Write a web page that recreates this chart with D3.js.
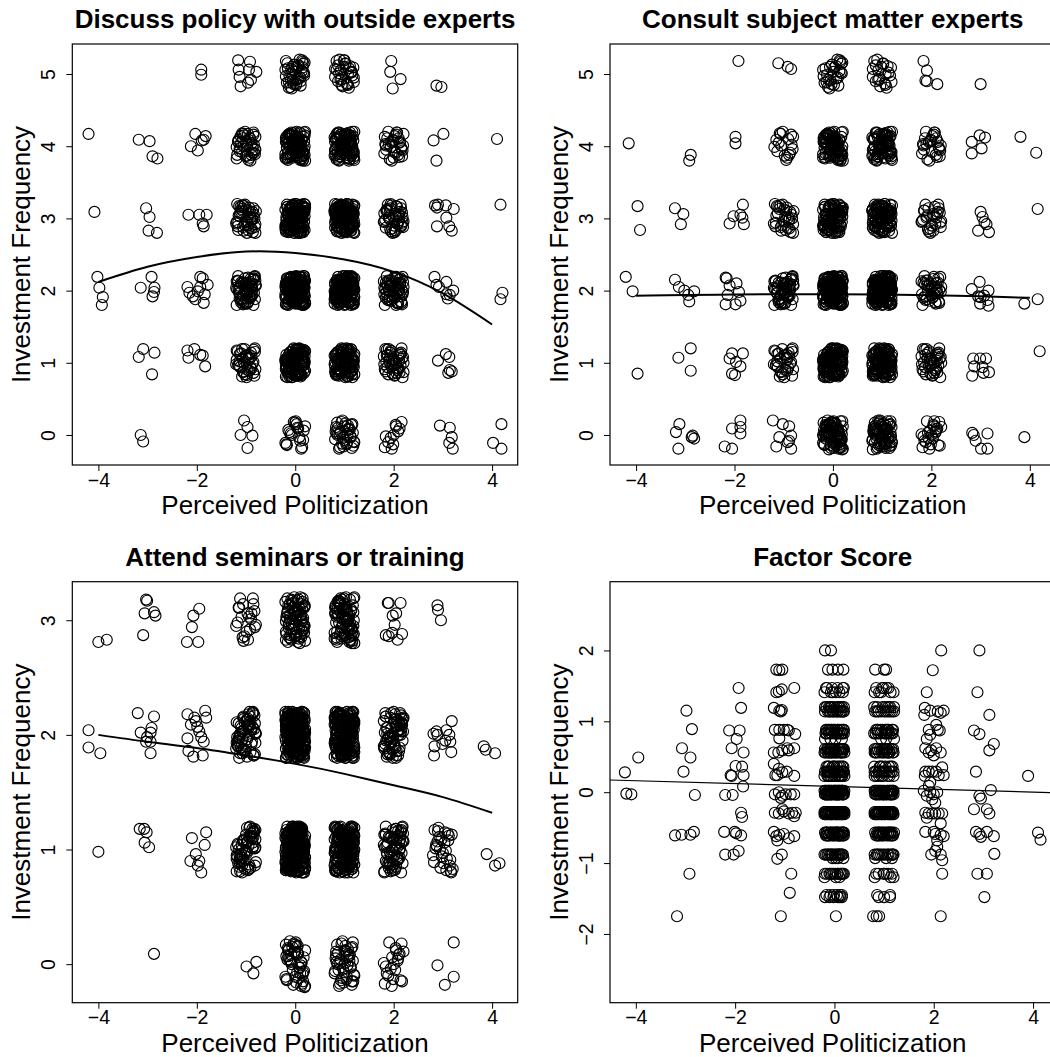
<!DOCTYPE html>
<html>
<head>
<meta charset="utf-8">
<script src="https://cdn.jsdelivr.net/npm/d3@7"></script>
<style>
  body { margin: 0; background: #fff; }
  svg text { font-family: "Liberation Sans", Arial, Helvetica, sans-serif; fill: #000; }
</style>
</head>
<body>
<svg id="chart" width="1050" height="1057"></svg>
<script>
// ---- shared axis values ----
const xTicks = [-4, -2, 0, 2, 4];
const fitX = [-4, -3, -2, -1, 0, 1, 2, 3, 4];

// hand-typed jitter offsets (hundredths) used for the solid central clusters
const jitterX = [-13, 7, 18, -4, 2, -19, 11, -8, 15, -1, 5, -16, 19, -11, 9, -6, 13, 0, -18, 4,
  16, -9, -3, 12, -14, 8, 20, -20, 3, -7, 14, -12, 10, 1, -17, 6, 17, -5, -15, 19,
  -2, 11, -10, 7, -19, 15, 2, -8, 13, -13, 18, -4, 5, -16, 9, -1, 16, -11, 0, 12,
  -18, 4, -6, 20, -14, 8, -9, 14, -3, 3, -20, 10, 17, -7, 6, -12, 1, -17, 15, -5,
  11, -15, 18, -2, 7, -10, 19, 13, -19, -6, 2, 9, -13, 16, -8, 5, -16];
const jitterY = [8, -15, 3, 19, -10, -2, 14, -18, 6, 11, -6, -20, 16, 1, -12, 9, -4, 20, -16, 5,
  13, -9, -1, 17, -13, 10, -7, 2, 18, -19, 7, -3, 12, -11, 15, 0, -17, 4, -8, 19,
  -14, 9, 6, -5, 14, -20, 11, -1, 3, -12, 17, -9, -16, 8, 1, 13, -6, -18, 16, 4,
  -3, 10, -15, 20, -11, 2, 7, -7, 15, -19, 12, -2, 5, -13, 18, -10, 0, 9, -17, 14,
  -4, 11, -8, 3, 19, -14, 6, -5, 1];

// ---- panel 1: Discuss policy with outside experts ----
const discussLevels = [0, 1, 2, 3, 4, 5];
const discussCols = [-1, 0, 1, 2];
const discussCounts = [   // rows = levels, cols = discussCols
  [0, 20, 35, 12],
  [40, 120, 95, 45],
  [60, 160, 150, 60],
  [45, 130, 130, 45],
  [40, 95, 90, 32],
  [0, 40, 32, 0]
];
const discussSparse = [
  [-4.20, 4.17], [-4.08, 3.09], [-4.02, 2.19], [-3.98, 2.04], [-3.91, 1.91], [-3.93, 1.80],
  [-3.18, 4.09], [-2.96, 4.07], [-2.90, 3.86], [-2.80, 3.83], [-3.03, 3.14], [-2.96, 3.02],
  [-2.98, 2.83], [-2.81, 2.80], [-3.14, 2.04], [-2.92, 2.19], [-2.86, 2.04], [-2.87, 1.98],
  [-2.90, 1.92], [-3.09, 1.19], [-3.18, 1.08], [-2.86, 1.14], [-2.91, 0.84], [-3.14, 0.00],
  [-3.09, -0.09],
  [-1.91, 5.06], [-1.91, 4.99], [-2.03, 4.17], [-2.12, 4.00], [-1.98, 3.94], [-1.86, 4.09],
  [-1.82, 4.14], [-1.90, 4.08], [-2.17, 3.05], [-1.95, 3.05], [-1.80, 3.05], [-1.88, 2.93],
  [-1.86, 2.89], [-2.19, 2.05], [-2.08, 1.92], [-1.98, 1.99], [-1.93, 2.19], [-1.88, 2.17],
  [-1.78, 2.08], [-1.84, 1.95], [-1.86, 1.83], [-2.03, 1.88], [-1.93, 2.05], [-2.15, 1.97],
  [-2.05, 1.19], [-2.19, 1.17], [-2.17, 1.07], [-1.93, 1.11], [-1.83, 0.95], [-1.88, 1.10],
  [-1.16, 5.19], [-0.92, 5.17], [-1.15, 5.06], [-0.79, 5.03], [-0.94, 5.06], [-1.13, 4.96],
  [-0.90, 4.92], [-0.96, 4.88], [-1.11, 4.83],
  [-1.04, 0.20], [-0.97, 0.11], [-1.11, 0.00], [-0.87, -0.01], [-0.97, -0.18],
  [1.95, 5.18], [1.93, 5.03], [2.14, 4.93], [1.98, 4.80],
  [2.87, 4.84], [2.97, 4.82], [2.81, 4.08], [3.01, 4.17], [2.87, 3.80], [2.84, 3.18],
  [2.88, 3.15], [2.90, 3.19], [3.06, 3.18], [3.22, 3.13], [3.07, 3.01], [2.88, 2.89],
  [3.13, 2.89], [3.18, 2.83], [2.83, 2.19], [2.87, 2.08], [3.07, 2.12], [3.21, 2.00],
  [2.92, 2.05], [3.07, 1.95], [3.10, 1.89], [3.14, 1.94], [2.90, 1.03], [3.06, 1.12],
  [3.13, 1.08], [3.11, 0.86], [3.18, 0.88], [3.14, 0.90], [2.94, 0.13], [3.14, 0.10],
  [3.18, -0.03], [3.13, -0.11], [3.20, -0.19],
  [4.10, 4.10], [4.17, 3.19], [4.21, 1.97], [4.17, 1.88], [4.19, 0.15], [4.02, -0.11], [4.19, -0.19]
];
const discussFit = [2.12, 2.33, 2.465, 2.54, 2.52, 2.43, 2.26, 1.96, 1.53];

// ---- panel 2: Consult subject matter experts ----
const consultLevels = [0, 1, 2, 3, 4, 5];
const consultCols = [-1, 0, 1, 2];
const consultCounts = [
  [0, 80, 65, 24],
  [32, 130, 110, 40],
  [52, 145, 145, 40],
  [32, 95, 90, 28],
  [18, 80, 72, 26],
  [0, 28, 22, 0]
];
const consultSparse = [
  [-4.15, 4.04], [-3.97, 3.17], [-3.92, 2.84], [-4.21, 2.19], [-4.07, 1.99], [-3.97, 0.85],
  [-2.89, 3.88], [-2.92, 3.80], [-3.21, 3.14], [-3.04, 3.06], [-3.09, 2.92], [-3.21, 2.15],
  [-3.13, 2.05], [-3.02, 2.00], [-2.82, 1.99], [-2.94, 1.94], [-2.92, 1.85], [-3.14, 1.07],
  [-2.89, 1.20], [-2.89, 0.89], [-3.12, 0.15], [-3.19, 0.04], [-3.14, -0.19], [-2.87, -0.03],
  [-2.82, -0.05], [-2.85, -0.01],
  [-1.92, 5.18], [-1.98, 4.13], [-1.98, 4.04], [-2.10, 2.93], [-2.02, 3.03], [-1.88, 3.05],
  [-1.83, 3.19], [-1.81, 2.92], [-1.84, 3.01], [-2.18, 2.18], [-2.16, 2.17], [-2.10, 2.07],
  [-1.96, 2.10], [-1.91, 1.98], [-2.14, 1.94], [-2.18, 1.81], [-1.98, 1.81], [-1.88, 1.86],
  [-2.10, 1.06], [-2.05, 1.13], [-1.97, 1.01], [-1.83, 1.13], [-1.88, 0.95], [-2.05, 0.85],
  [-1.99, 0.83], [-1.88, 0.20], [-2.05, 0.09], [-1.88, 0.11], [-1.88, 0.02], [-2.20, -0.16],
  [-2.05, -0.19],
  [-1.11, 5.15], [-0.92, 5.10], [-0.85, 5.07],
  [-1.22, 0.20], [-1.02, 0.15], [-0.89, 0.12], [-1.09, -0.03], [-0.85, -0.01], [-0.89, -0.08],
  [-1.15, -0.16], [-0.85, -0.19], [-0.92, -0.10],
  [1.84, 5.18], [1.91, 5.05], [1.88, 4.91], [1.91, 4.90], [2.12, 4.86],
  [3.00, 4.86], [2.82, 4.06], [2.98, 4.15], [3.09, 4.12], [2.82, 3.90], [3.02, 3.97],
  [3.00, 3.09], [3.04, 3.02], [3.08, 2.95], [3.12, 2.92], [2.95, 2.83], [3.17, 2.81],
  [2.82, 2.02], [2.98, 2.12], [3.16, 2.00], [2.95, 1.92], [3.07, 1.93], [3.14, 1.87],
  [2.99, 1.82], [3.16, 1.79], [3.00, 1.91], [2.85, 1.06], [2.99, 1.06], [3.11, 1.06],
  [2.87, 0.95], [3.04, 0.94], [2.83, 0.82], [3.06, 0.86], [3.17, 0.87], [2.83, 0.03],
  [2.90, -0.08], [3.14, 0.02], [3.01, -0.19], [3.14, -0.19], [2.86, 0.00],
  [3.81, 4.13], [4.13, 3.91], [4.16, 3.13], [3.89, 1.82], [4.16, 1.88], [4.20, 1.16], [3.89, -0.03]
];
const consultFit = [1.93, 1.94, 1.945, 1.95, 1.95, 1.945, 1.935, 1.92, 1.90];

// ---- panel 3: Attend seminars or training ----
const attendLevels = [0, 1, 2, 3];
const attendCols = [-1, 0, 1, 2, 3];
const attendCounts = [
  [0, 48, 45, 22, 0],
  [65, 210, 180, 70, 30],
  [65, 210, 190, 70, 0],
  [22, 80, 85, 0, 0]
];
const attendSparse = [
  [-4.00, 2.81], [-3.83, 2.83], [-4.20, 2.04], [-4.20, 1.89], [-3.96, 1.84], [-4.00, 0.98],
  [-3.03, 3.18], [-3.01, 3.17], [-3.06, 3.06], [-2.87, 3.07], [-2.84, 3.04], [-3.09, 2.87],
  [-3.20, 2.19], [-3.14, 2.02], [-2.87, 2.16], [-2.92, 2.06], [-2.94, 2.02], [-3.01, 1.98],
  [-3.03, 1.94], [-2.94, 1.94], [-2.94, 1.84], [-3.16, 1.18], [-3.07, 1.18], [-3.02, 1.15],
  [-3.06, 1.06], [-2.97, 1.02], [-2.87, 0.09],
  [-1.95, 3.10], [-2.07, 3.04], [-2.10, 2.94], [-2.20, 2.81], [-1.97, 2.81], [-2.19, 2.18],
  [-2.05, 2.15], [-2.12, 2.09], [-2.02, 2.12], [-1.83, 2.21], [-1.81, 2.15], [-1.95, 2.03],
  [-2.19, 1.97], [-1.91, 1.98], [-1.86, 1.94], [-2.17, 1.86], [-2.07, 1.81], [-1.88, 1.82],
  [-1.99, 2.07], [-2.10, 1.10], [-1.81, 1.15], [-1.84, 1.04], [-2.02, 0.96], [-2.13, 0.90],
  [-1.95, 0.90], [-1.98, 0.86], [-1.91, 0.80],
  [-0.99, -0.02], [-0.79, 0.02], [-0.85, -0.08],
  [1.88, 3.15], [1.90, 3.15], [2.14, 3.15], [1.98, 3.04], [2.05, 3.06], [2.02, 2.96],
  [1.90, 2.86], [1.97, 2.89], [2.17, 2.88], [2.08, 2.83], [1.84, 2.87],
  [2.89, 3.13], [2.90, 3.09], [2.96, 3.00], [2.81, 2.01], [2.87, 2.03], [2.89, 2.00],
  [3.07, 2.04], [3.18, 2.12], [3.13, 2.00], [3.05, 1.95], [3.17, 1.85], [2.83, 1.90],
  [2.82, 1.82], [2.99, 1.92], [3.15, 1.94], [2.89, -0.01], [3.22, 0.19], [3.22, -0.11],
  [3.04, -0.18],
  [3.83, 1.90], [3.87, 1.87], [4.06, 1.84], [3.89, 0.96], [4.06, 0.86], [4.15, 0.88]
];
const attendFit = [2.00, 1.94, 1.886, 1.82, 1.747, 1.66, 1.56, 1.457, 1.32];

// ---- panel 4: Factor Score ----
const factorLevels = [1.73, 1.47, 1.41, 1.2, 1.14, 0.88, 0.83, 0.75, 0.61, 0.56, 0.36, 0.29, 0.23,
  0.02, -0.03, -0.28, -0.31, -0.57, -0.61, -0.88, -0.93, -1.15, -1.2, -1.45, -1.48];
const factorCols = [0, 1];
const factorCounts = [   // rows = factorLevels, cols = factorCols
  [4, 3], [6, 5], [6, 5], [11, 7], [14, 10], [14, 11], [11, 10], [4, 3], [17, 13], [17, 13],
  [11, 8], [17, 11], [14, 8], [25, 18], [24, 17], [21, 18], [21, 17], [17, 14], [14, 11],
  [17, 13], [4, 3], [14, 7], [3, 3], [6, 2], [6, 3]
];
const factorSparse = [
  [-4.22, 0.28], [-3.95, 0.49], [-4.19, -0.02], [-4.09, -0.03],
  [-3.17, -1.75], [-3.21, -0.61], [-3.08, -0.60], [-2.90, -0.60], [-2.83, -0.56], [-2.92, -1.15],
  [-2.81, -0.04], [-2.98, 1.15], [-2.87, 0.89], [-3.07, 0.62], [-2.90, 0.49], [-3.04, 0.29],
  [-1.93, 1.47], [-1.88, 1.19], [-2.12, 0.87], [-1.91, 0.87], [-1.97, 0.75], [-2.07, 0.62],
  [-1.83, 0.56], [-1.99, 0.37], [-1.86, 0.36], [-2.09, 0.24], [-2.07, 0.23], [-1.83, 0.24],
  [-1.84, 0.08], [-2.20, -0.04], [-2.05, -0.04], [-1.88, -0.29], [-1.86, -0.35], [-2.22, -0.56],
  [-2.01, -0.56], [-1.98, -0.58], [-1.88, -0.61], [-2.20, -0.88], [-2.03, -0.88], [-1.93, -0.83],
  [-1.17, 1.73], [-1.11, 1.72], [-1.05, 1.73], [-0.81, 1.47], [-1.17, 1.41], [-1.12, 1.42],
  [-1.06, 1.45], [-1.22, 1.19], [-1.11, 1.15], [-1.06, 1.16], [-1.08, 1.14], [-1.20, 0.88],
  [-1.11, 0.88], [-1.02, 0.88], [-0.95, 0.88], [-0.92, 0.87], [-0.79, 0.82], [-1.11, 0.76],
  [-1.22, 0.56], [-1.13, 0.56], [-1.05, 0.59], [-0.95, 0.62], [-0.92, 0.59], [-0.81, 0.62],
  [-1.22, 0.40], [-1.19, 0.24], [-1.12, 0.33], [-1.05, 0.28], [-0.96, 0.29], [-0.81, 0.23],
  [-1.15, 0.24], [-1.20, -0.03], [-1.12, 0.00], [-1.05, -0.05], [-0.98, -0.03], [-0.88, -0.03],
  [-0.81, -0.03], [-1.08, -0.08], [-1.20, -0.29], [-1.12, -0.30], [-1.02, -0.27], [-0.92, -0.30],
  [-0.85, -0.29], [-0.78, -0.29], [-0.81, -0.34], [-1.05, -0.24], [-1.22, -0.56], [-1.17, -0.62],
  [-1.11, -0.60], [-1.02, -0.59], [-0.92, -0.65], [-0.81, -0.62], [-1.15, -0.68], [-1.15, -0.94],
  [-1.06, -0.88], [-0.87, -1.15], [-0.90, -1.42], [-1.08, -1.75],
  [-0.19, 2.00], [-0.07, 2.00], [0.03, -1.75], [0.78, -1.75], [0.85, -1.75], [0.90, -1.75],
  [2.15, 2.00], [1.98, 1.72], [1.86, 1.41], [1.82, 1.19], [1.81, 1.09], [1.93, 1.15],
  [2.08, 1.14], [2.20, 1.15], [2.14, 1.12], [1.90, 0.88], [2.08, 0.88], [2.12, 0.87],
  [2.05, 0.95], [1.86, 0.75], [1.93, 0.81], [1.83, 0.62], [1.90, 0.56], [1.95, 0.59],
  [2.05, 0.62], [2.14, 0.56], [2.00, 0.52], [1.83, 0.29], [1.90, 0.29], [1.97, 0.29],
  [2.05, 0.29], [2.17, 0.35], [2.20, 0.24], [1.82, 0.23], [2.10, 0.24], [1.93, 0.14],
  [1.80, 0.02], [1.86, -0.05], [1.93, 0.00], [2.00, -0.03], [2.07, 0.00], [1.97, -0.10],
  [2.03, -0.15], [1.90, 0.09], [1.83, -0.29], [1.90, -0.30], [1.97, -0.30], [2.03, -0.30],
  [2.10, -0.30], [2.17, -0.30], [1.86, -0.36], [2.14, -0.44], [1.83, -0.56], [2.00, -0.56],
  [2.03, -0.59], [2.14, -0.60], [2.20, -0.62], [2.07, -0.68], [1.95, -0.88], [2.03, -0.83],
  [2.14, -0.88], [2.17, -0.96], [2.07, -0.77], [2.17, -1.15], [2.14, -1.75],
  [2.92, 2.00], [2.88, 1.41], [3.12, 1.09], [2.81, 0.87], [2.92, 0.82], [3.21, 0.68],
  [3.12, 0.59], [2.85, 0.29], [3.15, 0.03], [2.92, -0.05], [2.95, -0.09], [2.81, -0.24],
  [3.07, -0.24], [3.12, -0.30], [2.85, -0.56], [2.92, -0.59], [2.95, -0.63], [3.07, -0.56],
  [3.21, -0.62], [3.22, -0.87], [2.88, -1.15], [3.07, -1.15], [3.02, -1.48],
  [3.90, 0.23], [4.10, -0.57], [4.15, -0.67]
];
const factorFitX = [-4.52, 4.45];
const factorFitY = [0.172, -0.007];

// ---- layout ----
const step = 537.7;
const svg = d3.select("#chart");

// spread every cluster count with the typed jitter table
function clusterPoints(cols, levels, counts, jitterLevels) {
    let pts = [];
    let c = 0;
    levels.forEach((lv, i) => {
        cols.forEach((cx, j) => {
            for (let k = 0; k < counts[i][j]; k++) {
                let dx = jitterX[(k + 17 * c) % jitterX.length] / 100;
                let dy = jitterLevels ? jitterY[(k + 23 * c) % jitterY.length] / 100 : 0;
                pts.push([cx + dx, lv + dy]);
            }
            c++;
        });
    });
    return pts;
}

function drawPanel(p) {
    let left = 72.3 + p.col * step, right = 517.7 + p.col * step;
    let top = 44 + p.row * step, bottom = 465 + p.row * step;
    let x = d3.scaleLinear().domain(p.xDomain).range([left, right]);
    let y = d3.scaleLinear().domain(p.yDomain).range([bottom, top]);
    let g = svg.append('g');

    g.append('g').attr('class', "points")
        .selectAll('circle').data(p.points).enter().append('circle')
        .attr('cx', (d) => x(d[0]))
        .attr('cy', (d) => y(d[1]))
        .attr('r', 5.5)
        .attr('fill', "none")
        .attr('stroke', "#000")
        .attr('stroke-width', 1.15);

    let clipId = `clip${p.col}${p.row}`;
    g.append('clipPath').attr('id', clipId)
        .append('rect').attr('x', left).attr('y', top)
        .attr('width', right - left).attr('height', bottom - top);
    let line = d3.line()
        .x((d) => x(d[0]))
        .y((d) => y(d[1]))
        .curve(p.straight ? d3.curveLinear : d3.curveNatural);
    g.append('path')
        .datum(p.fitX.map((v, i) => [v, p.fitY[i]]))
        .attr('clip-path', `url(#${clipId})`)
        .attr('d', line)
        .attr('fill', "none")
        .attr('stroke', "#000")
        .attr('stroke-width', p.fitWidth);

    g.append('rect')
        .attr('x', left).attr('y', top)
        .attr('width', right - left).attr('height', bottom - top)
        .attr('fill', "none").attr('stroke', "#000").attr('stroke-width', 1.2);

    let fmt = d3.format("d");
    let xa = g.append('g').attr('transform', `translate(0,${bottom})`)
        .call(d3.axisBottom(x).tickValues(xTicks).tickFormat(fmt).tickSize(6).tickSizeOuter(0));
    xa.attr('font-family', null).attr('font-size', null);
    xa.select('.domain').remove();
    xa.selectAll('line').attr('stroke', "#000");
    xa.selectAll('text')
        .attr('y', 21.5).attr('dy', null)
        .attr('font-size', "19.5px");

    let ya = g.append('g').attr('transform', `translate(${left},0)`)
        .call(d3.axisLeft(y).tickValues(p.yTicks).tickFormat(fmt).tickSize(6).tickSizeOuter(0));
    ya.attr('font-family', null).attr('font-size', null);
    ya.select('.domain').remove();
    ya.selectAll('line').attr('stroke', "#000");
    ya.selectAll('text')
        .attr('x', null).attr('dy', null)
        .attr('text-anchor', "middle")
        .attr('transform', "translate(-17,0) rotate(-90)")
        .attr('font-size', "19.5px");

    g.append('text')
        .attr('x', (left + right) / 2).attr('y', 28 + p.row * step)
        .attr('text-anchor', "middle")
        .attr('font-size', "26px").attr('font-weight', "bold")
        .text(p.title);
    g.append('text')
        .attr('x', (left + right) / 2).attr('y', bottom + 49)
        .attr('text-anchor', "middle")
        .attr('font-size', "26px")
        .text("Perceived Politicization");
    g.append('text')
        .attr('transform', `translate(${30 + p.col * step},${(top + bottom) / 2}) rotate(-90)`)
        .attr('text-anchor', "middle")
        .attr('font-size', "26px")
        .text("Investment Frequency");
}

drawPanel({
    col: 0, row: 0, title: "Discuss policy with outside experts",
    xDomain: [-4.53, 4.52], yDomain: [-0.416, 5.416], yTicks: [0, 1, 2, 3, 4, 5],
    points: discussSparse.concat(clusterPoints(discussCols, discussLevels, discussCounts, true)),
    fitX: fitX, fitY: discussFit, fitWidth: 2
});
drawPanel({
    col: 1, row: 0, title: "Consult subject matter experts",
    xDomain: [-4.53, 4.52], yDomain: [-0.416, 5.416], yTicks: [0, 1, 2, 3, 4, 5],
    points: consultSparse.concat(clusterPoints(consultCols, consultLevels, consultCounts, true)),
    fitX: fitX, fitY: consultFit, fitWidth: 2
});
drawPanel({
    col: 0, row: 1, title: "Attend seminars or training",
    xDomain: [-4.53, 4.52], yDomain: [-0.336, 3.336], yTicks: [0, 1, 2, 3],
    points: attendSparse.concat(clusterPoints(attendCols, attendLevels, attendCounts, true)),
    fitX: fitX, fitY: attendFit, fitWidth: 2
});
drawPanel({
    col: 1, row: 1, title: "Factor Score",
    xDomain: [-4.52, 4.45], yDomain: [-2.97, 2.97], yTicks: [-2, -1, 0, 1, 2],
    points: factorSparse.concat(clusterPoints(factorCols, factorLevels, factorCounts, false)),
    fitX: factorFitX, fitY: factorFitY, fitWidth: 1.2, straight: true
});
</script>
</body>
</html>
